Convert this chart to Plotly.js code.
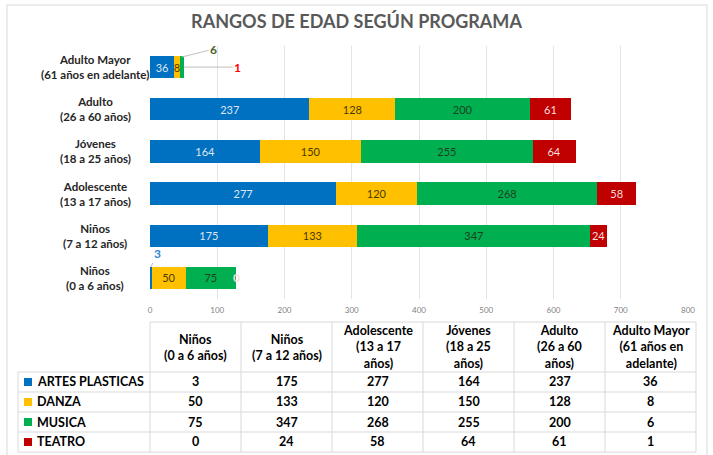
<!DOCTYPE html>
<html>
<head>
<meta charset="utf-8">
<script src="https://cdn.plot.ly/plotly-3.0.1.min.js"></script>
<style>html,body{margin:0;padding:0;background:#fff}#chart{width:713px;height:455px}</style>
</head>
<body>
<div id="chart"></div>
<script>
// ---- data ----
const categories = ['Niños<br>(0 a 6 años)', 'Niños<br>(7 a 12 años)', 'Adolescente<br>(13 a 17 años)', 'Jóvenes<br>(18 a 25 años)', 'Adulto<br>(26 a 60 años)', 'Adulto Mayor<br>(61 años en adelante)'];
const tableHeaders = ['Niños<br>(0 a 6 años)', 'Niños<br>(7 a 12 años)', 'Adolescente<br>(13 a 17<br>años)', 'Jóvenes<br>(18 a 25<br>años)', 'Adulto<br>(26 a 60<br>años)', 'Adulto Mayor<br>(61 años en<br>adelante)'];
const seriesNames = ['ARTES PLASTICAS', 'DANZA', 'MUSICA', 'TEATRO'];
const artesPlasticas = [3, 175, 277, 164, 237, 36];
const danza = [50, 133, 120, 150, 128, 8];
const musica = [75, 347, 268, 255, 200, 6];
const teatro = [0, 24, 58, 64, 61, 1];
const tickValues = [0, 100, 200, 300, 400, 500, 600, 700, 800];

// ---- styling ----
const FONT = 'Lato, "Open Sans", sans-serif';
const seriesValues = [artesPlasticas, danza, musica, teatro];
const barColors = ['#0070C0', '#FFC000', '#00B050', '#C00000'];
const labelColors = ['#dce6f2', '#4a3a00', '#1e3f22', '#f5dede'];

// points whose labels are drawn as callouts: [seriesIndex, categoryIndex]
const callouts = [
  {s: 0, c: 0, ax: 6, ay: -13, yshift: 11, color: '#2e86d6', arrow: true},
  {s: 2, c: 5, ax: 32, ay: -8, yshift: 10, color: '#4f6228', arrow: true},
  {s: 3, c: 5, ax: 54, ay: 0, yshift: 0, color: '#ff0000', arrow: true},
  {s: 3, c: 0, ax: 0, ay: 0, yshift: 0, color: '#f5dede', arrow: false}
];
const isCallout = (s, c) => callouts.some(o => o.s === s && o.c === c);

const traces = seriesNames.map((name, s) => ({
  type: 'bar',
  orientation: 'h',
  name: name,
  y: categories,
  x: seriesValues[s],
  marker: {color: barColors[s], line: {width: 0}},
  text: seriesValues[s].map((v, c) => isCallout(s, c) ? '' : String(v)),
  textposition: 'inside',
  insidetextanchor: 'middle',
  constraintext: 'none',
  textangle: 0,
  textfont: {family: FONT, size: 11, color: labelColors[s]},
  hoverinfo: 'x+name'
}));

// plot-area pixel geometry
const L = 150, R = 688, T = 46, B = 299;
const px = x => (x - L) / (R - L);
const py = y => (B - y) / (B - T);

const annotations = [];
// category labels on the left (centered)
categories.forEach(cat => {
  annotations.push({
    xref: 'paper', yref: 'y', x: px(95), y: cat, xanchor: 'center', yanchor: 'middle',
    text: cat, showarrow: false, align: 'center',
    font: {family: FONT, size: 11.5, color: '#262626', weight: 700}
  });
});
// callout labels
callouts.forEach(o => {
  let base = 0;
  for (let k = 0; k < o.s; k++) base += seriesValues[k][o.c];
  const v = seriesValues[o.s][o.c];
  annotations.push({
    xref: 'x', yref: 'y',
    x: o.arrow ? base + v / 2 : base + v,
    y: categories[o.c],
    yshift: o.yshift,
    text: String(v),
    showarrow: o.arrow,
    arrowhead: 0, arrowwidth: 1, arrowcolor: '#bfbfbf',
    ax: o.ax, ay: o.ay,
    xanchor: 'center',
    font: {family: FONT, size: 12, color: o.color, weight: 700}
  });
});

// table
const colLeft = 150, colW = 91, nCols = 6;
const tableRight = colLeft + colW * nCols;
const rowLines = [372, 392, 412, 432, 452];
tableHeaders.forEach((h, i) => {
  annotations.push({
    xref: 'paper', yref: 'paper', x: px(colLeft + colW * (i + 0.5)), y: py(347),
    xanchor: 'center', yanchor: 'middle', text: h, showarrow: false, align: 'center',
    font: {family: FONT, size: 12.5, color: '#000', weight: 700}
  });
});
const shapes = [];
seriesNames.forEach((name, r) => {
  const cy = (rowLines[r] + rowLines[r + 1]) / 2;
  annotations.push({
    xref: 'paper', yref: 'paper', x: px(35), y: py(cy), xanchor: 'left', yanchor: 'middle',
    text: name, showarrow: false,
    font: {family: FONT, size: 12.5, color: '#000', weight: 700}
  });
  shapes.push({type: 'rect', xref: 'paper', yref: 'paper', x0: px(24), x1: px(32), y0: py(cy + 4), y1: py(cy - 4),
    fillcolor: barColors[r], line: {width: 0}});
  seriesValues[r].forEach((v, i) => {
    annotations.push({
      xref: 'paper', yref: 'paper', x: px(colLeft + colW * (i + 0.5)), y: py(cy),
      xanchor: 'center', yanchor: 'middle', text: String(v), showarrow: false,
      font: {family: FONT, size: 12.5, color: '#000', weight: 700}
    });
  });
});
const lineStyle = {color: '#d9d9d9', width: 1};
shapes.push({type: 'line', xref: 'paper', yref: 'paper', x0: px(colLeft), x1: px(tableRight), y0: py(322), y1: py(322), line: lineStyle});
rowLines.forEach(y => shapes.push({type: 'line', xref: 'paper', yref: 'paper', x0: px(18), x1: px(tableRight), y0: py(y), y1: py(y), line: lineStyle}));
shapes.push({type: 'line', xref: 'paper', yref: 'paper', x0: px(18), x1: px(18), y0: py(372), y1: py(452), line: lineStyle});
for (let i = 0; i <= nCols; i++) {
  const x = colLeft + colW * i;
  shapes.push({type: 'line', xref: 'paper', yref: 'paper', x0: px(x), x1: px(x), y0: py(322), y1: py(452), line: lineStyle});
}
// outer chart border
shapes.push({type: 'rect', xref: 'paper', yref: 'paper', x0: px(7), x1: px(707), y0: py(5), y1: py(470), line: {color: '#d9d9d9', width: 1}, fillcolor: 'rgba(0,0,0,0)'});

const layout = {
  width: 713, height: 455,
  margin: {l: L, r: 713 - R, t: T, b: 455 - B, pad: 0},
  paper_bgcolor: '#fff', plot_bgcolor: '#fff',
  barmode: 'stack', bargap: 0.47,
  showlegend: false,
  title: {text: 'RANGOS DE EDAD SEGÚN PROGRAMA', x: 0.5, xanchor: 'center', y: 1 - 22 / 455, yanchor: 'middle',
    font: {family: FONT, size: 18, color: '#595959', weight: 700}},
  xaxis: {range: [0, 800], autorange: false, tickvals: tickValues, ticktext: tickValues.map(String), showgrid: true, gridcolor: '#e3e3e3', gridwidth: 1,
    zeroline: false, showline: false, ticks: '', ticklabelstandoff: 5, tickfont: {family: FONT, size: 8, color: '#7f7f7f'}, fixedrange: true},
  yaxis: {type: 'category', categoryorder: 'array', categoryarray: categories, range: [-0.5, categories.length - 0.5], autorange: false,
    showticklabels: false, showgrid: false, zeroline: false, showline: false, ticks: '', fixedrange: true},
  annotations: annotations,
  shapes: shapes
};

Plotly.newPlot('chart', traces, layout, {displayModeBar: false, staticPlot: true});
</script>
</body>
</html>
